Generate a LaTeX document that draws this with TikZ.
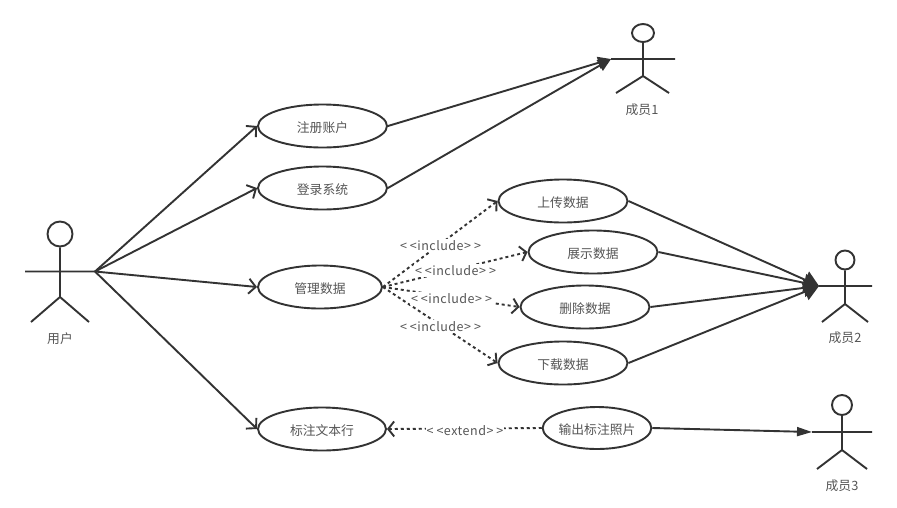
\documentclass[tikz,border=0pt]{standalone}
\usepackage{fontspec}
\setmainfont{Noto Sans CJK SC}
\newfontfamily\spaced[LetterSpace=4]{Noto Sans CJK SC}
\usetikzlibrary{shapes.geometric,arrows.meta}
\definecolor{ink}{HTML}{333333}
\definecolor{txt}{HTML}{555555}
\tikzset{
  usecase/.style={ellipse,draw=ink,line width=1.9pt,fill=white,inner sep=0pt,minimum width=129pt,minimum height=43pt,font=\fontsize{12.8}{14}\selectfont,text=txt},
  limb/.style={draw=ink,line width=1.9pt},
  actorname/.style={font=\fontsize{12.8}{14}\selectfont,text=txt,inner sep=0pt},
  stereo/.style={font=\spaced\fontsize{12.5}{14}\selectfont,text=txt,fill=white,inner sep=1pt},
  assoc/.style={draw=ink,line width=1.9pt,-{Straight Barb[length=7pt,width=15pt,line width=1.9pt]}},
  dep/.style={draw=ink,line width=1.9pt,dash pattern=on 3pt off 3pt,-{Straight Barb[length=6pt,width=15pt,line width=1.9pt]}},
  plain/.style={draw=ink,line width=1.9pt},
  head1/.style={-{Triangle[length=13pt,width=12pt,fill=ink]}},
  head2/.style={-{Triangle[length=15pt,width=18pt,fill=ink]}},
  head3/.style={-{Triangle[length=15pt,width=9pt,fill=ink]}},
}
\newcommand{\inc}{<\kern3pt<include>\kern3pt>}
\newcommand{\ext}{<\kern3pt<extend>\kern3pt>}
\newcommand{\ct}[1]{\rule{0pt}{15pt}#1}
\begin{document}
\begin{tikzpicture}[x=1pt,y=-1pt]
\useasboundingbox[fill=white] (0,0) rectangle (897,507);
% actors
\node[ellipse,draw=ink,line width=1.9pt,inner sep=0pt,minimum width=25pt,minimum height=25pt] (uh) at (60,234) {};
\coordinate (uhand) at (95,271.5);
\draw[limb] (uh.south) -- (60,297) (25,271.5) -- (uhand) (31,322) -- (60,297) -- (89,322);
\node[actorname] (ul) at (60,338.5) {用户};

\node[ellipse,draw=ink,line width=1.9pt,inner sep=0pt,minimum width=22pt,minimum height=18pt] (ah) at (643,33) {};
\coordinate (ahand) at (611,59);
\draw[limb] (ah.south) -- (643,76) (ahand) -- (675,59) (616,93) -- (643,76) -- (669,93);
\node[actorname] (al) at (642,109.5) {成员1};

\node[ellipse,draw=ink,line width=1.9pt,inner sep=0pt,minimum width=19pt,minimum height=19pt] (bh) at (845,260) {};
\coordinate (bhand) at (819,286);
\draw[limb] (bh.south) -- (845,304) (bhand) -- (872,286) (822,322) -- (845,304) -- (868,322);
\node[actorname] (bl) at (845,337.5) {成员2};

\node[ellipse,draw=ink,line width=1.9pt,inner sep=0pt,minimum width=20pt,minimum height=20pt] (ch) at (842,405) {};
\coordinate (chand) at (812,432);
\draw[limb] (ch.south) -- (842,450) (chand) -- (872,432) (817,469) -- (842,450) -- (867,469);
\node[actorname] (cl) at (842,485.5) {成员3};

% use cases
\node[usecase] (reg) at (322.5,126) {\ct{注册账户}};
\node[usecase] (log) at (322.5,188) {\ct{登录系统}};
\node[usecase,minimum width=124pt] (mgr) at (320,287) {\ct{管理数据}};
\node[usecase,minimum width=128pt] (mark) at (322,429) {\ct{标注文本行}};
\node[usecase] (up) at (563,201) {\ct{上传数据}};
\node[usecase] (show) at (593,252) {\ct{展示数据}};
\node[usecase] (del) at (585,307) {\ct{删除数据}};
\node[usecase] (down) at (563,363) {\ct{下载数据}};
\node[usecase,minimum width=108pt,minimum height=42pt] (out) at (597,428) {\ct{输出标注照片}};

% connectors
\draw[assoc] (uhand) -- (reg.west);
\draw[assoc] (uhand) -- (log.west);
\draw[assoc] (uhand) -- (mgr.west);
\draw[assoc] (uhand) -- (mark.west);
\draw[plain,head1] (reg.east) -- (ahand);
\draw[plain,head1] (log.east) -- (ahand);
\draw[plain,head2] (up.east) -- (bhand);
\draw[plain,head2] (show.east) -- (bhand);
\draw[plain,head2] (del.east) -- (bhand);
\draw[plain,head2] (down.east) -- (bhand);
\draw[plain,head3] (out.east) -- (chand);
\draw[dep] (mgr.east) -- (up.west);
\draw[dep] (mgr.east) -- (show.west);
\draw[dep] (mgr.east) -- (del.west);
\draw[dep] (mgr.east) -- (down.west);
\draw[dep] (out.west) -- (mark.east);
\node[stereo] (s1) at (440.5,245.5) {\inc};
\node[stereo] (s2) at (455.5,270.5) {\inc};
\node[stereo] (s3) at (451.5,298.5) {\inc};
\node[stereo] (s4) at (440.5,326.5) {\inc};
\node[stereo] (s5) at (465,430.5) {\ext};
\end{tikzpicture}
\end{document}
